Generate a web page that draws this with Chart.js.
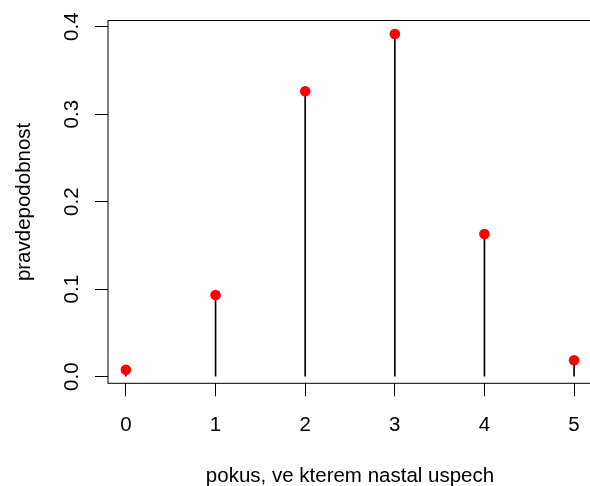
<!DOCTYPE html>
<html>
<head>
<meta charset="utf-8">
<script src="https://cdn.jsdelivr.net/npm/chart.js@4"></script>
<style>
  html, body { margin: 0; padding: 0; background: #fff; overflow: hidden; width: 590px; height: 486px; }
  canvas { display: block; }
</style>
</head>
<body>
<canvas id="c" width="600" height="486"></canvas>
<script>
// pravdepodobnost, ze uspech nastane v danem pokusu
const pokusy = [0, 1, 2, 3, 4, 5];
const pravdepodobnost = [0.0078, 0.0934, 0.3262, 0.3917, 0.1631, 0.0187];
const xTicks = [0, 1, 2, 3, 4, 5];
const xTickLabels = ['0', '1', '2', '3', '4', '5'];
const yTicks = [0, 0.1, 0.2, 0.3, 0.4];
const yTickLabels = ['0.0', '0.1', '0.2', '0.3', '0.4'];

const FONT = "'Liberation Sans', Arial, Helvetica, sans-serif";
const points = pokusy.map((x, i) => ({ x: x, y: pravdepodobnost[i] }));

// box around the plot region (R bty="o")
const boxPlugin = {
  id: 'box',
  afterDraw(chart) {
    const { ctx, chartArea: a } = chart;
    ctx.save();
    ctx.strokeStyle = '#000';
    ctx.lineWidth = 1;
    ctx.strokeRect(a.left, a.top, a.right - a.left, a.bottom - a.top);
    ctx.restore();
  }
};

// y tick labels are rotated like R's las=0
const yLabelPlugin = {
  id: 'yLabels',
  afterDraw(chart) {
    const { ctx } = chart;
    const y = chart.scales.y;
    ctx.save();
    ctx.fillStyle = '#000';
    ctx.font = '20.5px ' + FONT;
    ctx.textAlign = 'center';
    ctx.textBaseline = 'middle';
    yTicks.forEach((v, i) => {
      ctx.save();
      ctx.translate(y.right - 36, y.getPixelForValue(v));
      ctx.rotate(-Math.PI / 2);
      ctx.fillText(yTickLabels[i], 0, 0);
      ctx.restore();
    });
    ctx.restore();
  }
};

new Chart(document.getElementById('c'), {
  type: 'bar',
  data: {
    datasets: [
      {
        type: 'scatter',
        data: points,
        order: 0,
        pointRadius: 5.3,
        pointBackgroundColor: '#ff0000',
        pointBorderWidth: 0,
        showLine: false
      },
      {
        type: 'bar',
        data: points,
        order: 1,
        barThickness: 1,
        backgroundColor: '#000000',
        borderWidth: 0,
        grouped: false
      }
    ]
  },
  options: {
    responsive: false,
    animation: false,
    devicePixelRatio: 1,
    layout: { padding: { top: 20.5, right: 8, left: 0, bottom: 0 } },
    plugins: { legend: { display: false }, tooltip: { enabled: false } },
    scales: {
      x: {
        type: 'linear',
        offset: false,
        min: -0.2,
        max: 5.2,
        afterBuildTicks: (s) => { s.ticks = xTicks.map(v => ({ value: v })); },
        afterFit: (s) => { s.height = 102.7; },
        border: { display: false },
        grid: { offset: false, drawOnChartArea: false, drawTicks: true, tickLength: 13, color: '#000', lineWidth: 1 },
        ticks: {
          color: '#000',
          font: { family: FONT, size: 20.5 },
          padding: 17,
          maxRotation: 0,
          callback: (v, i) => xTickLabels[i]
        },
        title: {
          display: true,
          text: 'pokus, ve kterem nastal uspech',
          color: '#000',
          font: { family: FONT, size: 20.5 },
          padding: { top: 0, bottom: -3 }
        }
      },
      y: {
        type: 'linear',
        min: -0.0076,
        max: 0.4071,
        afterBuildTicks: (s) => { s.ticks = yTicks.map(v => ({ value: v })); },
        afterFit: (s) => { s.width = 108; },
        border: { display: false },
        grid: { drawOnChartArea: false, drawTicks: true, tickLength: 13, color: '#000', lineWidth: 1 },
        ticks: { display: false },
        title: {
          display: true,
          text: 'pravdepodobnost',
          color: '#000',
          font: { family: FONT, size: 20.5 },
          padding: { top: 12, bottom: 0 }
        }
      }
    }
  },
  plugins: [boxPlugin, yLabelPlugin]
});
</script>
</body>
</html>
